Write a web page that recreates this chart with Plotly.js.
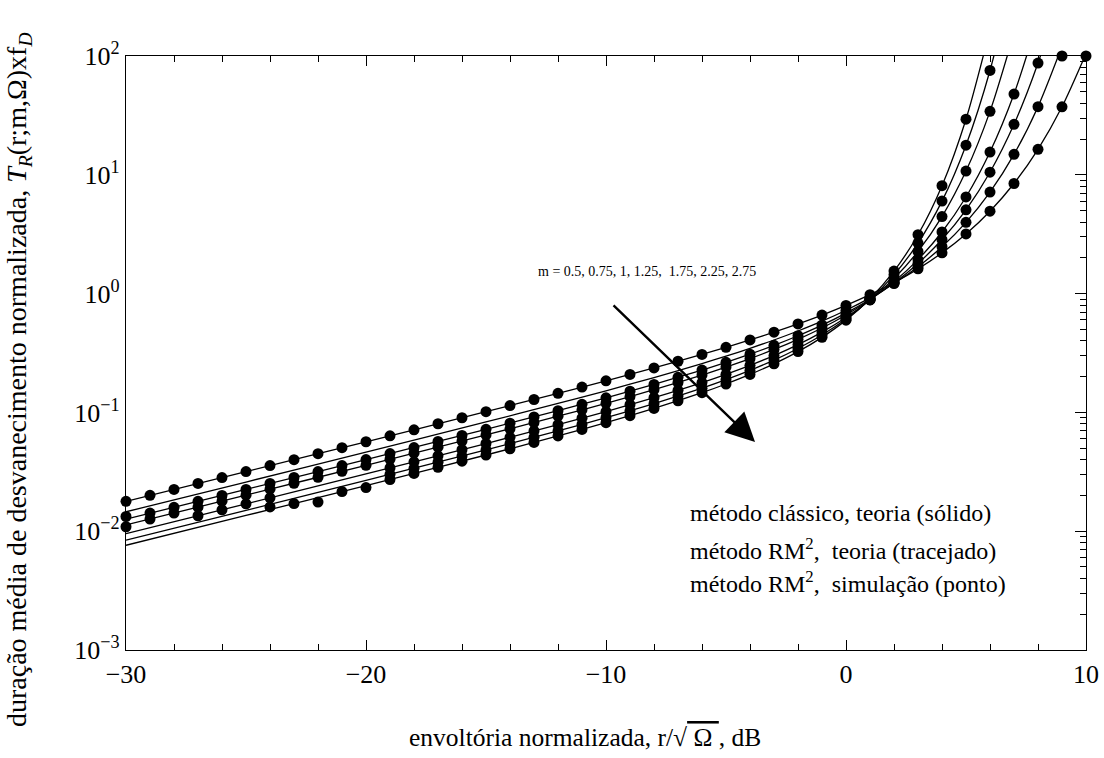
<!DOCTYPE html>
<html>
<head>
<meta charset="utf-8">
<script src="https://cdn.plot.ly/plotly-3.0.1.min.js"></script>
<style>html,body{margin:0;padding:0;background:#fff;}#chart{width:1104px;height:758px;}</style>
</head>
<body>
<div id="chart"></div>
<script>
// ---- data ----
const mValues = ['0.5', '0.75', '1', '1.25', '1.75', '2.25', '2.75'];

// solid theory curves (x in dB)
const xLine = [-30, -25, -20, -15, -12, -10, -8, -6, -5, -4, -3, -2, -1, 0, 1, 2, 3, 4, 5, 6, 7, 8, 9, 10];
const lineM05  = [0.017848, 0.03176, 0.056607, 0.101393, 0.144737, 0.184484, 0.23686, 0.30768, 0.352928, 0.40721, 0.47333, 0.55547, 0.65977, 0.7959, 0.97958, 1.2369, 1.61498, 2.20219, 3.17789, 4.93754, 8.44765, 16.3808, 37.3455, 104.779];
const lineM075 = [0.014574, 0.02594, 0.046264, 0.083039, 0.118896, 0.152093, 0.196406, 0.257525, 0.297393, 0.346091, 0.406787, 0.484273, 0.586084, 0.724646, 0.921298, 1.214978, 1.681428, 2.48027, 3.98146, 7.1477, 14.8671, 37.4567, 120.822];
const lineM1   = [0.012622, 0.02247, 0.040095, 0.072076, 0.103439, 0.132678, 0.172103, 0.227294, 0.263865, 0.309185, 0.366686, 0.441693, 0.543004, 0.685494, 0.896551, 1.229199, 1.794801, 2.85169, 5.07557, 10.5118, 26.585, 87.19, 398.8];
const lineM125 = [0.01129, 0.020101, 0.035882, 0.064583, 0.092851, 0.119356, 0.155364, 0.206393, 0.240627, 0.283546, 0.338773, 0.41214, 0.513497, 0.660352, 0.886011, 1.258894, 1.933449, 3.30014, 6.5068, 15.5434, 47.847, 204.4];
const lineM175 = [0.0095425, 0.016993, 0.030349, 0.054723, 0.078885, 0.101727, 0.133117, 0.178418, 0.209397, 0.248926, 0.300966, 0.372137, 0.474181, 0.629402, 0.88358, 1.340525, 2.26598, 4.45009, 10.74375, 34.1999, 156.368];
const lineM225 = [0.0084165, 0.014989, 0.026782, 0.04835, 0.069825, 0.09025, 0.118547, 0.159927, 0.188622, 0.225748, 0.275473, 0.345055, 0.447876, 0.610725, 0.892407, 1.438161, 2.6645, 6.00579, 17.766, 75.527, 514.2];
const lineM275 = [0.0076131, 0.01356, 0.024234, 0.043791, 0.06333, 0.081993, 0.108008, 0.146442, 0.173394, 0.208627, 0.2565, 0.32476, 0.428245, 0.597989, 0.906266, 1.5458, 3.13131, 8.0997, 29.3824, 167.13];

// simulation points (x in dB, one per integer dB)
const xDot = [-30, -29, -28, -27, -26, -25, -24, -23, -22, -21, -20, -19, -18, -17, -16, -15, -14, -13, -12, -11, -10, -9, -8, -7, -6, -5, -4, -3, -2, -1, 0, 1, 2, 3, 4, 5, 6, 7, 8, 9, 10];
const dotM05  = [0.01785, 0.02003, 0.02247, 0.02522, 0.0283, 0.03176, 0.03565, 0.04001, 0.04491, 0.05042, 0.05661, 0.06357, 0.0714, 0.08023, 0.09017, 0.1014, 0.1141, 0.1284, 0.1447, 0.1633, 0.1845, 0.2088, 0.2369, 0.2695, 0.3077, 0.3529, 0.4072, 0.4733, 0.5555, 0.6598, 0.7959, 0.9796, 1.237, 1.615, 2.202, 3.178, 4.938, 8.448, 16.38, 37.35, 100];
const dotM075 = [null, null, null, null, null, null, null, null, null, null, null, null, null, null, null, null, null, null, null, null, null, null, null, null, null, null, null, null, null, null, 0.7246, 0.9213, 1.215, 1.681, 2.48, 3.981, 7.148, 14.87, 37.46, 100, null];
const dotM1   = [0.0133, 0.0142, 0.0159, 0.01784, 0.02002, 0.02247, 0.02522, 0.02831, 0.03179, 0.0357, 0.0401, 0.04505, 0.05062, 0.05692, 0.06403, 0.07208, 0.08121, 0.09159, 0.1034, 0.117, 0.1327, 0.1509, 0.1721, 0.1972, 0.2273, 0.2639, 0.3092, 0.3667, 0.4417, 0.543, 0.6855, 0.8966, 1.229, 1.795, 2.852, 5.076, 10.51, 26.59, 87.19, null, null];
const dotM125 = [0.0109, 0.01267, 0.01422, 0.01596, 0.01791, 0.0201, 0.02256, 0.02533, 0.02844, 0.03194, 0.03588, 0.04032, 0.04532, 0.05097, 0.05735, 0.06458, 0.0728, 0.08215, 0.09285, 0.1051, 0.1194, 0.1359, 0.1554, 0.1785, 0.2064, 0.2406, 0.2835, 0.3388, 0.4121, 0.5135, 0.6604, 0.886, 1.259, 1.933, 3.3, 6.507, 15.54, 47.85, null, null, null];
const dotM175 = [null, null, null, 0.01349, 0.01514, 0.01699, 0.01908, null, null, null, null, 0.03411, 0.03835, 0.04314, 0.04857, 0.05472, 0.06173, 0.06972, 0.07889, 0.08945, 0.1017, 0.1161, 0.1331, 0.1535, 0.1784, 0.2094, 0.2489, 0.301, 0.3721, 0.4742, 0.6294, 0.8836, 1.341, 2.266, 4.45, 10.74, 34.2, null, null, null, null];
const dotM225 = [null, null, null, null, null, null, null, null, null, null, null, 0.0301, 0.03385, 0.03809, 0.0429, 0.04835, 0.05456, 0.06166, 0.06983, 0.07926, 0.09025, 0.1032, 0.1185, 0.1371, 0.1599, 0.1886, 0.2257, 0.2755, 0.3451, 0.4479, 0.6107, 0.8924, 1.438, 2.665, 6.006, 17.77, 75.53, null, null, null, null];
const dotM275 = [null, null, null, null, null, null, 0.016, 0.01709, 0.0176, 0.02157, 0.0233, 0.02724, 0.03064, 0.03449, 0.03884, 0.04379, 0.04943, 0.0559, 0.06333, 0.07194, 0.08199, 0.09385, 0.108, 0.1252, 0.1464, 0.1734, 0.2086, 0.2565, 0.3248, 0.4282, 0.598, 0.9063, 1.546, 3.131, 8.1, 29.38, null, null, null, null, null];

// axis tick labels
const xTickVals = [-30, -20, -10, 0, 10];
const yTickVals = [0.001, 0.01, 0.1, 1, 10, 100];
const yTickText = ['10<sup>\u22123</sup>', '10<sup>\u22122</sup>', '10<sup>\u22121</sup>', '10<sup>0</sup>', '10<sup>1</sup>', '10<sup>2</sup>'];

// ---- build ----
const lines = [lineM05, lineM075, lineM1, lineM125, lineM175, lineM225, lineM275];
const dots = [dotM05, dotM075, dotM1, dotM125, dotM175, dotM225, dotM275];
const FONT = 'Liberation Serif, Times New Roman, serif';

const traces = [];
lines.forEach((ys, i) => {
  traces.push({
    type: 'scatter', mode: 'lines', x: xLine, y: ys, name: 'm = ' + mValues[i],
    line: {color: '#000', width: 1.3, shape: 'spline', smoothing: 0.8},
    showlegend: false, hoverinfo: 'skip'
  });
});
dots.forEach((ys, i) => {
  traces.push({
    type: 'scatter', mode: 'markers', x: xDot, y: ys, name: 'sim m = ' + mValues[i],
    marker: {color: '#000', size: 11}, cliponaxis: false,
    showlegend: false, hoverinfo: 'skip'
  });
});
// right-hand axis carrying the log ticks
traces.push({type: 'scatter', mode: 'markers', x: [], y: [], yaxis: 'y2', showlegend: false, hoverinfo: 'skip'});

const minorVals = [];
[0.001, 0.01, 0.1, 1, 10].forEach(d => { for (let k = 2; k <= 9; k++) minorVals.push(d * k); });

const layout = {
  width: 1104, height: 758,
  margin: {l: 126, r: 18, t: 56, b: 108},
  paper_bgcolor: '#fff', plot_bgcolor: '#fff',
  font: {family: FONT, color: '#000', size: 20},
  showlegend: false,
  xaxis: {
    range: [-30, 10], tickmode: 'array', tickvals: xTickVals,
    ticks: 'inside', ticklen: 10, tickwidth: 1, tickcolor: '#000',
    minor: {ticks: 'inside', ticklen: 6, tickwidth: 1, tickcolor: '#000', tickmode: 'linear', tick0: 0, dtick: 2, showgrid: false},
    showline: true, linecolor: '#000', linewidth: 1.3, mirror: 'ticks',
    showgrid: false, zeroline: false,
    tickfont: {family: FONT, size: 26, color: '#000'}
  },
  yaxis: {
    type: 'log', range: [-3, 2], tickmode: 'array', tickvals: yTickVals, ticktext: yTickText,
    ticks: '', showline: true, linecolor: '#000', linewidth: 1.3, mirror: true,
    showgrid: false, zeroline: false,
    tickfont: {family: FONT, size: 26, color: '#000'}
  },
  yaxis2: {
    type: 'log', range: [-3, 2], overlaying: 'y', side: 'right',
    tickmode: 'array', tickvals: yTickVals, showticklabels: false,
    ticks: 'inside', ticklen: 11, tickwidth: 1, tickcolor: '#000',
    minor: {ticks: 'inside', ticklen: 6, tickwidth: 1, tickcolor: '#000', tickmode: 'array', tickvals: minorVals, showgrid: false},
    showline: false, showgrid: false, zeroline: false
  },
  annotations: [
    // axis titles
    {xref: 'paper', yref: 'paper', x: 0.478, y: -0.1465, xanchor: 'center', yanchor: 'middle', showarrow: false,
     text: 'envoltória normalizada, r/\u221A<span style="text-decoration:overline">\u00A0\u03A9\u00A0</span>, dB',
     font: {family: FONT, size: 25.5, color: '#000'}},
    {xref: 'paper', yref: 'paper', x: -0.1125, y: 0.4545, xanchor: 'center', yanchor: 'middle', showarrow: false, textangle: -90,
     text: 'duração média de desvanecimento normalizada, <i>T</i><sub><i>R</i></sub>(r;m,\u03A9)xf<sub><i>D</i></sub>',
     font: {family: FONT, size: 28, color: '#000'}},
    // m label and arrow
    {xref: 'x', yref: 'y', x: -12.92, y: 0.19, xanchor: 'left', yanchor: 'middle', showarrow: false,
     text: 'm = 0.5, 0.75, 1, 1.25,\u00A0 1.75, 2.25, 2.75', font: {family: FONT, size: 14, color: '#000'}},
    {xref: 'x', yref: 'y', x: -3.79, y: -1.249, text: '', showarrow: true, arrowhead: 2, arrowsize: 2.4, arrowwidth: 2.4, arrowcolor: '#000', ax: -143, ay: -138, standoff: 0},
    // method legend text
    {xref: 'paper', yref: 'paper', x: 0.5854, y: 0.2306, xanchor: 'left', yanchor: 'middle', showarrow: false,
     text: 'método clássico, teoria (sólido)', font: {family: FONT, size: 24, color: '#000'}},
    {xref: 'paper', yref: 'paper', x: 0.5854, y: 0.170, xanchor: 'left', yanchor: 'middle', showarrow: false,
     text: 'método RM<sup>2</sup>,\u00A0 teoria (tracejado)', font: {family: FONT, size: 24, color: '#000'}},
    {xref: 'paper', yref: 'paper', x: 0.5854, y: 0.1145, xanchor: 'left', yanchor: 'middle', showarrow: false,
     text: 'método RM<sup>2</sup>,\u00A0 simulação (ponto)', font: {family: FONT, size: 24, color: '#000'}}
  ]
};

Plotly.newPlot('chart', traces, layout, {displayModeBar: false, staticPlot: true});
</script>
</body>
</html>
